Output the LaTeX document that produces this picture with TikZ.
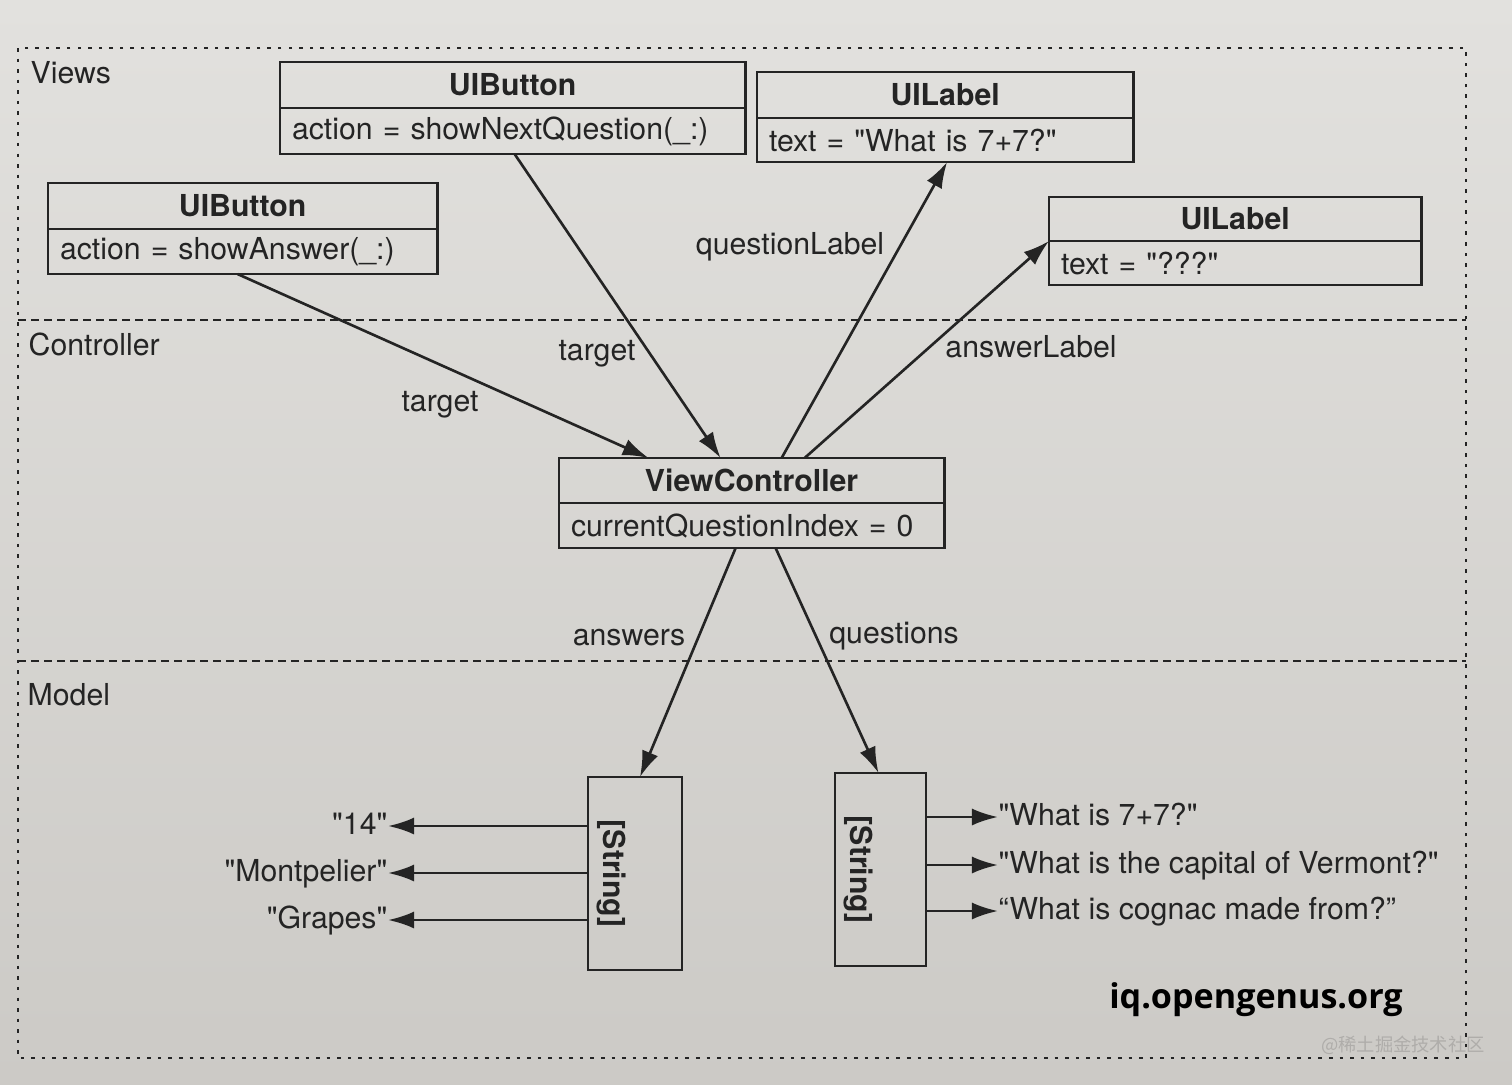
\documentclass[tikz,border=0pt]{standalone}
\usepackage{fontspec}
\setmainfont{TeX Gyre Heros}[Ligatures=TeXOff]
\newfontfamily\wmfont{Open Sans}
\newfontfamily\cjk{Noto Sans CJK SC}
\usetikzlibrary{arrows.meta,calc}
\definecolor{papertop}{RGB}{226,225,222}
\definecolor{paperbot}{RGB}{204,202,198}
\definecolor{ink}{RGB}{36,36,36}
\definecolor{wmgray}{RGB}{175,173,170}
\begin{document}
\begin{tikzpicture}[x=0.01cm,y=0.01cm,
  font=\fontsize{8.6}{10}\selectfont,
  hdr/.style={draw=ink, line width=0.8pt, anchor=north west, inner xsep=0pt, inner ysep=0pt, outer sep=0pt,
              align=center, font=\fontsize{8.6}{10}\selectfont\bfseries, text=ink},
  bdy/.style={draw=ink, line width=0.8pt, anchor=north west, inner xsep=0.12cm, inner ysep=0pt, outer sep=0pt,
              align=left, text=ink},
  lbl/.style={text=ink, inner sep=0pt, text height=0.22cm, text depth=0.06cm},
  arr/.style={draw=ink, line width=0.75pt, -{Latex[length=0.26cm,width=0.17cm]}},
  outerframe/.style={draw=ink, line width=0.7pt, dash pattern=on 1pt off 2pt},
  sepline/.style={draw=ink, line width=0.7pt, dash pattern=on 2.2pt off 1.5pt},
  strbox/.style={draw=ink, line width=0.8pt, minimum height=1.93cm, inner sep=0pt, outer sep=0pt}
]
% paper
\shade[top color=papertop, bottom color=paperbot] (0,0) rectangle (1512,-1084);
\useasboundingbox (0,0) rectangle (1512,-1084);

% frame and separators
\draw[outerframe] (18,-48) rectangle (1466,-1058);
\draw[sepline] (18,-320) -- (1466,-320);
\draw[sepline] (18,-661) -- (1466,-661);

% section names
\node[lbl, anchor=west] (views) at (30,-75) {Views};
\node[lbl, anchor=west] (ctrl) at (28,-347) {Controller};
\node[lbl, anchor=west] (model) at (27,-697) {Model};

% UIButton (top)
\node[hdr, text width=4.65cm, minimum height=0.46cm] (b1h) at (280,-62) {UIButton};
\node[bdy, text width=4.41cm, minimum height=0.46cm] (b1b) at (b1h.south west) {action = showNextQuestion(\_:)};
% UILabel (top)
\node[hdr, text width=3.76cm, minimum height=0.46cm] (l1h) at (757,-72) {UILabel};
\node[bdy, text width=3.52cm, minimum height=0.44cm] (l1b) at (l1h.south west) {text = "What is 7+7?"};
% UIButton (left)
\node[hdr, text width=3.89cm, minimum height=0.46cm] (b2h) at (48,-183) {UIButton};
\node[bdy, text width=3.65cm, minimum height=0.45cm] (b2b) at (b2h.south west) {action = showAnswer(\_:)};
% UILabel (right)
\node[hdr, text width=3.72cm, minimum height=0.44cm] (l2h) at (1049,-197) {UILabel};
\node[bdy, text width=3.48cm, minimum height=0.44cm] (l2b) at (l2h.south west) {text = "???"};
% ViewController
\node[hdr, text width=3.85cm, minimum height=0.45cm] (vch) at (559,-458) {ViewController};
\node[bdy, text width=3.61cm, minimum height=0.45cm] (vcb) at (vch.south west) {currentQuestionIndex = 0};

% [String] boxes
\node[strbox, minimum width=0.94cm] (s1) at (635,-873.5) {};
\node[rotate=-90, text=ink, inner sep=0pt, font=\fontsize{8.6}{10}\selectfont\bfseries] (s1t) at ($(s1.center)+(-24,0)$) {[String]};
\node[strbox, minimum width=0.91cm] (s2) at (880.5,-869.5) {};
\node[rotate=-90, text=ink, inner sep=0pt, font=\fontsize{8.6}{10}\selectfont\bfseries] (s2t) at ($(s2.center)+(-22,0)$) {[String]};

% connectors
\draw[arr] ($(b2b.south)+(-5,0)$) -- ($(vch.north)+(-103,0)$);
\draw[arr] ($(b1b.south)+(2,0)$) -- ($(vch.north)+(-31,0)$);
\draw[arr] ($(vch.north)+(30,0)$) -- ($(l1b.south)+(2,0)$);
\draw[arr] ($(vch.north)+(53,0)$) -- (l2b.north west);
\draw[arr] ($(vcb.south)+(-16,0)$) -- ($(s1.north)+(5,0)$);
\draw[arr] ($(vcb.south)+(24,0)$) -- ($(s2.north)+(-2,0)$);

% connector labels
\node[lbl] (tgt1) at (440,-403) {target};
\node[lbl] (tgt2) at (597,-352) {target};
\node[lbl] (qlbl) at (790,-246) {questionLabel};
\node[lbl] (albl) at (1031,-349) {answerLabel};
\node[lbl] (ans) at (629,-637) {answers};
\node[lbl] (qst) at (894,-635) {questions};

% answers
\node[lbl, anchor=east] (a1) at (388,-826) {"14"};
\node[lbl, anchor=east] (a2) at (388,-873) {"Montpelier"};
\node[lbl, anchor=east] (a3) at (388,-920) {"Grapes"};
\draw[arr] (s1.west |- a1.east) -- (a1.east);
\draw[arr] (s1.west |- a2.east) -- (a2.east);
\draw[arr] (s1.west |- a3.east) -- (a3.east);

% questions
\node[lbl, anchor=west] (q1) at (998,-817) {"What is 7+7?"};
\node[lbl, anchor=west] (q2) at (998,-865) {"What is the capital of Vermont?"};
\node[lbl, anchor=west] (q3) at (998,-911) {“What is cognac made from?”};
\draw[arr] (s2.east |- q1.west) -- (q1.west);
\draw[arr] (s2.east |- q2.west) -- (q2.west);
\draw[arr] (s2.east |- q3.west) -- (q3.west);

% watermarks
\node[inner sep=0pt, font=\wmfont\bfseries\fontsize{9.7}{11}\selectfont, text=black] (wm1) at (1256,-1000) {iq.opengenus.org};
\node[inner sep=0pt, font=\cjk\fontsize{5.2}{6}\selectfont, text=wmgray] (wm2) at (1403,-1045) {@稀土掘金技术社区};
\end{tikzpicture}
\end{document}
